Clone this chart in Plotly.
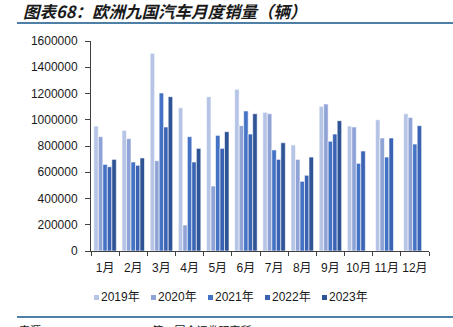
import plotly.graph_objects as go

# Monthly passenger-car registrations, nine European markets (units)
months = ["1月", "2月", "3月", "4月", "5月", "6月", "7月", "8月", "9月", "10月", "11月", "12月"]
years = ["2019年", "2020年", "2021年", "2022年", "2023年"]

sales_2019 = [952000, 919000, 1506000, 1092000, 1176000, 1232000, 1057000, 808000, 1102000, 952000, 1000000, 1046000]
sales_2020 = [871000, 856000, 688000, 198000, 495000, 955000, 1046000, 698000, 1120000, 945000, 861000, 1018000]
sales_2021 = [660000, 678000, 1204000, 871000, 881000, 1067000, 770000, 531000, 836000, 668000, 716000, 815000]
sales_2022 = [642000, 653000, 945000, 678000, 782000, 891000, 698000, 577000, 891000, 762000, 861000, 955000]
sales_2023 = [698000, 709000, 1176000, 782000, 909000, 1046000, 825000, 716000, 993000, None, None, None]

series = [sales_2019, sales_2020, sales_2021, sales_2022, sales_2023]
colors = ["#B6C4E6", "#8FA3D7", "#4472C4", "#3B63B3", "#2F5496"]

y_ticks = [0, 200000, 400000, 600000, 800000, 1000000, 1200000, 1400000, 1600000]

W, H = 453, 327
L, R, T, B = 91, 24, 41, 76
pw, ph = W - L - R, H - T - B

font_main = "Liberation Sans, Arial, Noto Sans CJK SC, sans-serif"

fig = go.Figure()
for name, vals, col in zip(years, series, colors):
    fig.add_trace(go.Bar(
        x=months, y=vals, name=name,
        marker=dict(color=col, line=dict(color="white", width=0.6)),
        showlegend=False,
    ))

fig.update_layout(
    width=W, height=H,
    margin=dict(l=L, r=R, t=T, b=B),
    paper_bgcolor="white", plot_bgcolor="white",
    barmode="group", bargap=0.2, bargroupgap=0,
    font=dict(family=font_main, size=12, color="#1a1a1a"),
)

fig.update_xaxes(
    type="category", showgrid=False,
    showline=True, linecolor="#404040", linewidth=1,
    ticks="outside", ticklen=4, tickcolor="#404040", tickson="boundaries",
    ticklabelstandoff=6, tickangle=0,
    tickfont=dict(size=12, family=font_main, color="#1a1a1a"),
)
fig.update_yaxes(
    range=[0, 1600000], tickvals=y_ticks,
    ticktext=[str(v) for v in y_ticks],
    showgrid=False, zeroline=False,
    showline=True, linecolor="#404040", linewidth=1,
    ticks="outside", ticklen=5, tickcolor="#404040",
    ticklabelstandoff=5,
    tickfont=dict(size=12, family=font_main, color="#1a1a1a"),
)

def px_x(p):
    return (p - L) / pw

def px_y(p):
    return (H - B - p) / ph

# Title and header rule
fig.add_annotation(
    text="图表68：欧洲九国汽车月度销量（辆）",
    xref="paper", yref="paper", x=px_x(21), y=px_y(11),
    xanchor="left", yanchor="middle", showarrow=False,
    font=dict(family="Noto Sans CJK SC", size=16.5, color="#1a1a1a",
              weight="bold", style="italic"),
)
fig.add_shape(type="line", xref="paper", yref="paper",
              x0=px_x(17), x1=px_x(W), y0=px_y(23), y1=px_y(23),
              line=dict(color="#4E7FA6", width=2))

# Footer rule and source note
fig.add_shape(type="line", xref="paper", yref="paper",
              x0=px_x(17), x1=px_x(W), y0=px_y(317), y1=px_y(317),
              line=dict(color="#4E7FA6", width=2))
fig.add_annotation(
    text="来源：SMMT，KBA，OFFA等，国金证券研究所",
    xref="paper", yref="paper", x=px_x(17), y=px_y(320),
    xanchor="left", yanchor="top", showarrow=False,
    font=dict(family="Noto Sans CJK SC", size=11, color="#1a1a1a"),
)

# Legend row: small colour swatch followed by the series name
leg_x0, leg_pitch, leg_y = 94, 57, 297
for i, (name, col) in enumerate(zip(years, colors)):
    sx = leg_x0 + i * leg_pitch
    fig.add_shape(type="rect", xref="paper", yref="paper",
                  x0=px_x(sx), x1=px_x(sx + 5), y0=px_y(leg_y + 3), y1=px_y(leg_y - 2),
                  fillcolor=col, line=dict(width=0))
    fig.add_annotation(
        text=name, xref="paper", yref="paper", x=px_x(sx + 5), y=px_y(leg_y),
        xanchor="left", yanchor="middle", showarrow=False,
        font=dict(family=font_main, size=12, color="#1a1a1a"),
    )

fig.write_html("out.html")
